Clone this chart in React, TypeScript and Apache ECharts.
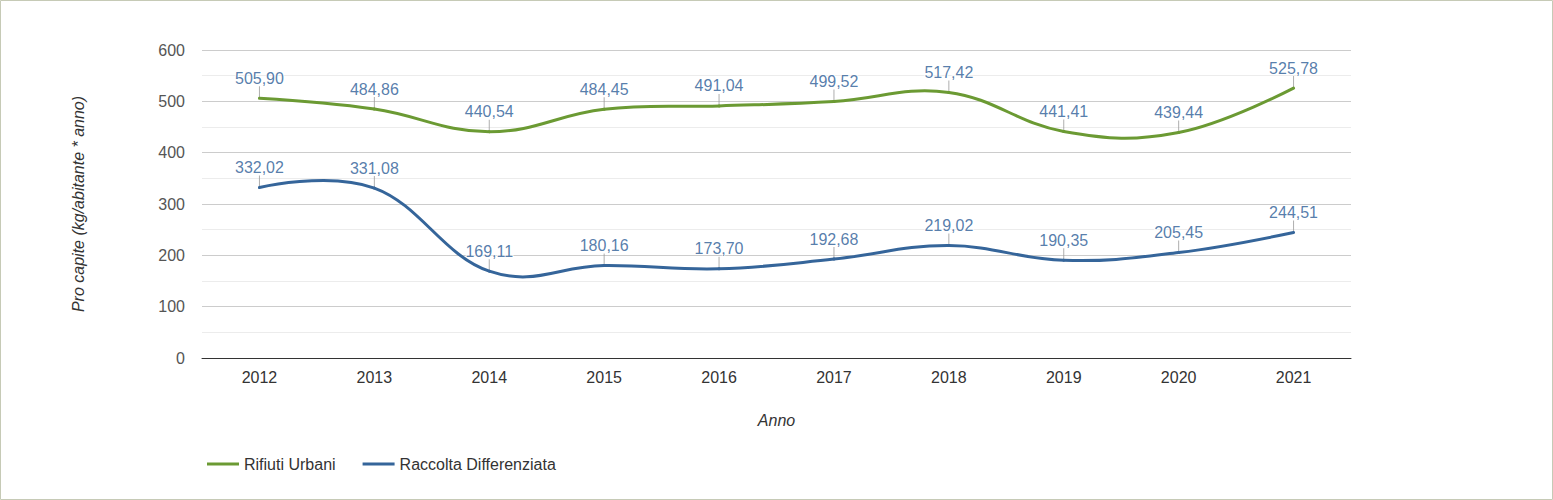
import React, { useEffect, useRef } from "react";
import * as echarts from "echarts";

const years = ["2012", "2013", "2014", "2015", "2016", "2017", "2018", "2019", "2020", "2021"];
const rifiutiUrbani = [505.9, 484.86, 440.54, 484.45, 491.04, 499.52, 517.42, 441.41, 439.44, 525.78];
const raccoltaDifferenziata = [332.02, 331.08, 169.11, 180.16, 173.7, 192.68, 219.02, 190.35, 205.45, 244.51];
const seriesNames = ["Rifiuti Urbani", "Raccolta Differenziata"];
const yMinorTicks = [50, 150, 250, 350, 450, 550];

const GREEN = "#6b9a33";
const BLUE = "#35659a";
const LABEL = "#2b5c96";
const FONT = "Liberation Sans, Arial, sans-serif";

const fmt = (v: number) => v.toFixed(2).replace(".", ",");

// Cardinal-style spline control points (smoothing 1.5) on pixel coordinates
function controlPoints(pts: number[][]) {
  const sm = 1.5;
  const den = sm + 1;
  return pts.map((p, i) => {
    const prev = pts[i - 1];
    const next = pts[i + 1];
    if (!prev || !next) return { l: p, r: p };
    const [x, y] = p;
    const lx = (sm * x + prev[0]) / den;
    let ly = (sm * y + prev[1]) / den;
    const rx = (sm * x + next[0]) / den;
    let ry = (sm * y + next[1]) / den;
    if (rx !== lx) {
      const c = ((ry - ly) * (rx - x)) / (rx - lx) + y - ry;
      ly += c;
      ry += c;
    }
    return { l: [lx, ly], r: [rx, ry] };
  });
}

export default function App() {
  const ref = useRef<HTMLDivElement>(null);
  useEffect(() => {
    document.body.style.margin = "0";
    const chart = echarts.init(ref.current!, null, { renderer: "svg" });

    const splineSeries = (name: string, values: number[], color: string) => ({
      name,
      type: "custom",
      data: values.map((v, i) => [i, v]),
      encode: { x: 0, y: 1 },
      itemStyle: { color },
      z: 3,
      silent: true,
      renderItem: (params: any, api: any) => {
        const i = params.dataIndex;
        if (i >= values.length - 1) return null;
        const pts = values.map((v, k) => api.coord([k, v]));
        const cps = controlPoints(pts);
        const a = pts[i];
        const b = pts[i + 1];
        return {
          type: "bezierCurve",
          shape: {
            x1: a[0],
            y1: a[1],
            cpx1: cps[i].r[0],
            cpy1: cps[i].r[1],
            cpx2: cps[i + 1].l[0],
            cpy2: cps[i + 1].l[1],
            x2: b[0],
            y2: b[1],
          },
          style: { stroke: color, lineWidth: 3, fill: "none", lineCap: "round" },
        };
      },
    });

    const tickSeries = (name: string, data: number[]) => ({
      name,
      type: "scatter",
      data,
      symbol: "rect",
      symbolSize: [1, 12],
      symbolOffset: [0, -6],
      itemStyle: { color: "#9a9a9a" },
      silent: true,
      z: 2,
      label: {
        show: true,
        position: "top",
        distance: 0,
        color: LABEL,
        fontSize: 16,
        fontFamily: FONT,
        textBorderColor: "#ffffff",
        textBorderWidth: 2,
        formatter: (p: any) => fmt(p.value),
      },
    });

    chart.setOption({
      animation: false,
      textStyle: { fontFamily: FONT },
      grid: { left: 202, right: 202, top: 50, bottom: 142 },
      legend: {
        data: seriesNames.map((n) => ({ name: n, icon: "rect" })),
        left: 202,
        top: 451,
        itemWidth: 32,
        itemHeight: 3,
        itemGap: 27,
        textStyle: { fontSize: 16, color: "#333" },
      },
      graphic: [
        {
          type: "rect",
          shape: { x: 0.5, y: 0.5, width: 1552, height: 499 },
          style: { fill: "none", stroke: "#c6cab6", lineWidth: 1 },
          silent: true,
        },
      ],
      xAxis: {
        type: "category",
        data: years,
        boundaryGap: true,
        name: "Anno",
        nameLocation: "middle",
        nameGap: 54,
        nameTextStyle: { fontStyle: "italic", fontSize: 16, color: "#333" },
        axisLine: { lineStyle: { color: "#333", width: 1 } },
        axisTick: { show: false },
        axisLabel: { fontSize: 16, color: "#333", margin: 11 },
      },
      yAxis: {
        type: "value",
        min: 0,
        max: 600,
        interval: 100,
        name: "Pro capite (kg/abitante * anno)",
        nameLocation: "middle",
        nameGap: 116,
        nameTextStyle: { fontStyle: "italic", fontSize: 16, color: "#333" },
        axisLine: { show: false },
        axisTick: { show: false },
        axisLabel: { fontSize: 16, color: "#555", margin: 17 },
        splitLine: { lineStyle: { color: "#cccccc", width: 1 } },
      },
      series: [
        splineSeries(seriesNames[0], rifiutiUrbani, GREEN),
        splineSeries(seriesNames[1], raccoltaDifferenziata, BLUE),
        {
          name: "_minorGrid",
          type: "line",
          data: [],
          z: 0,
          markLine: {
            silent: true,
            z: 0,
            symbol: "none",
            label: { show: false },
            lineStyle: { color: "#ececec", width: 1, type: "solid" },
            data: yMinorTicks.map((v) => ({ yAxis: v })),
          },
        },
        tickSeries("_ticksRU", rifiutiUrbani),
        tickSeries("_ticksRD", raccoltaDifferenziata),
      ],
    });
    return () => chart.dispose();
  }, []);
  return <div ref={ref} style={{ width: 1553, height: 500 }} />;
}
